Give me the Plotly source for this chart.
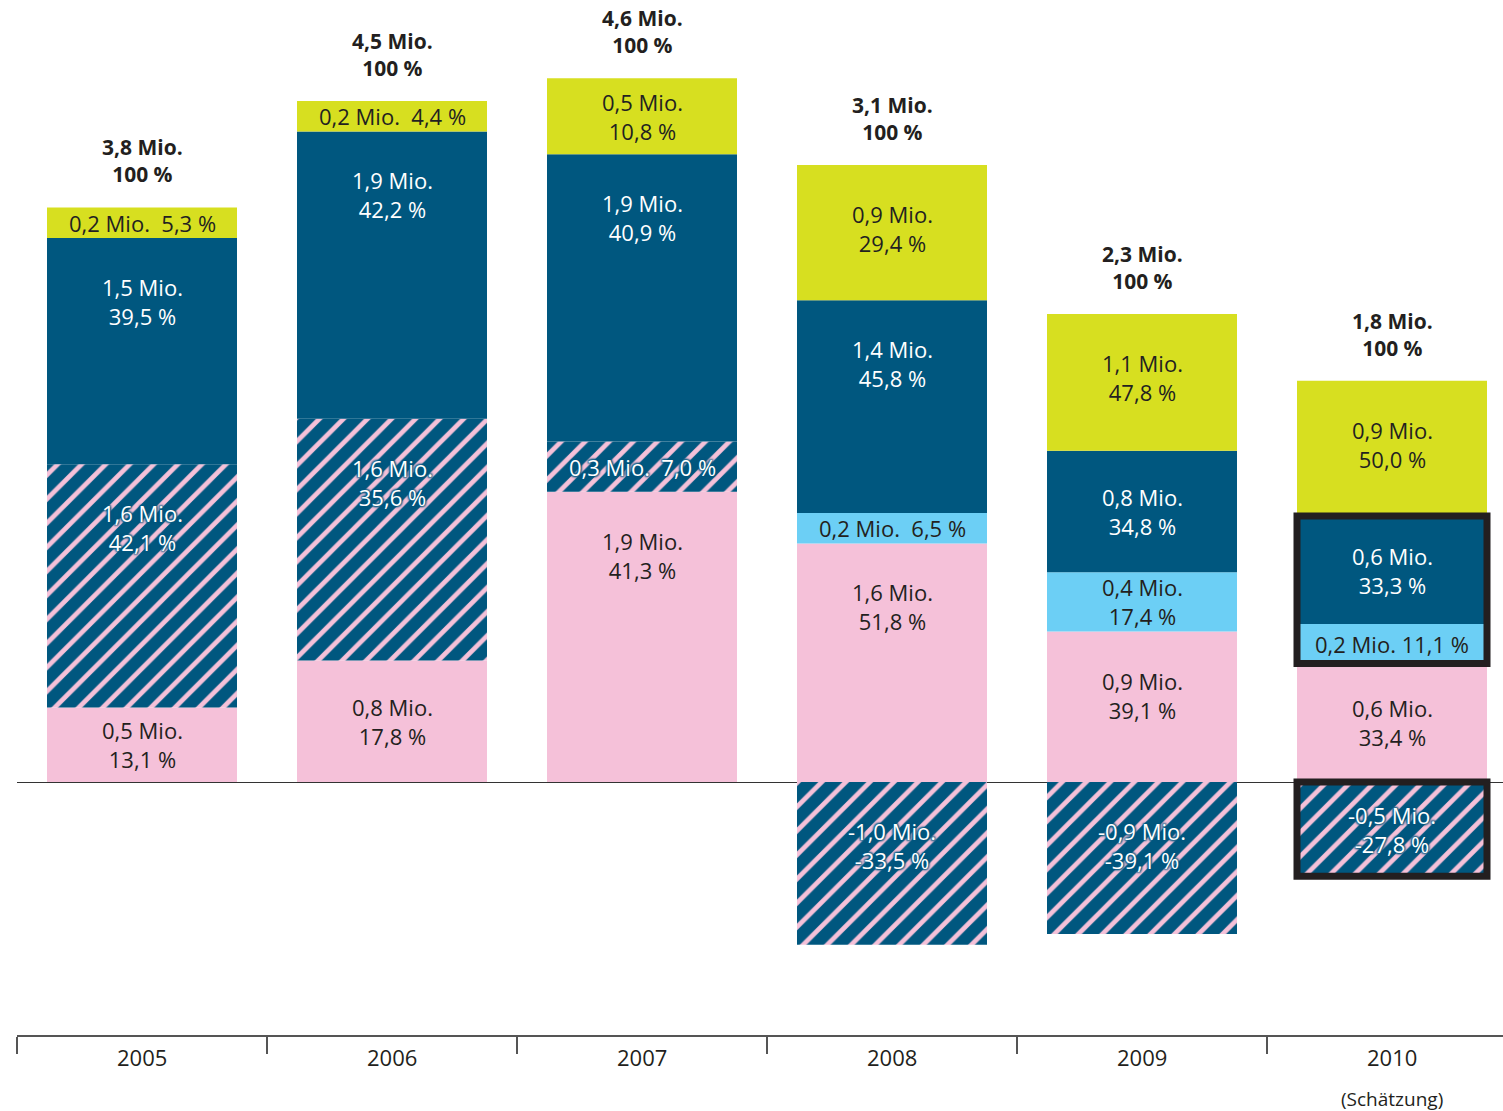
import plotly.graph_objects as go

years = ["2005", "2006", "2007", "2008", "2009", "2010"]

# segment heights in Mio. as drawn in the picture
pink = [0.49, 0.80, 1.91, 1.57, 0.99, 0.78]
hatch = [1.60, 1.59, 0.33, -1.07, -1.00, -0.62]
light = [None, None, None, 0.20, 0.39, 0.26]
dark = [1.49, 1.89, 1.89, 1.40, 0.80, 0.71]
yellow = [0.20, 0.20, 0.50, 0.89, 0.90, 0.89]

pink_lbl = ["0,5 Mio.<br>13,1 %", "0,8 Mio.<br>17,8 %", "1,9 Mio.<br>41,3 %",
            "1,6 Mio.<br>51,8 %", "0,9 Mio.<br>39,1 %", "0,6 Mio.<br>33,4 %"]
hatch_lbl = ["1,6 Mio.<br>42,1 %", "1,6 Mio.<br>35,6 %", "0,3 Mio.\u00a0 7,0 %",
             "-1,0 Mio.<br>-33,5 %", "-0,9 Mio.<br>-39,1 %", "-0,5 Mio.<br>-27,8 %"]
light_lbl = [None, None, None, "0,2 Mio.\u00a0 6,5 %", "0,4 Mio.<br>17,4 %", "0,2 Mio. 11,1 %"]
dark_lbl = ["1,5 Mio.<br>39,5 %", "1,9 Mio.<br>42,2 %", "1,9 Mio.<br>40,9 %",
            "1,4 Mio.<br>45,8 %", "0,8 Mio.<br>34,8 %", "0,6 Mio.<br>33,3 %"]
yellow_lbl = ["0,2 Mio.\u00a0 5,3 %", "0,2 Mio.\u00a0 4,4 %", "0,5 Mio.<br>10,8 %",
              "0,9 Mio.<br>29,4 %", "1,1 Mio.<br>47,8 %", "0,9 Mio.<br>50,0 %"]
total_lbl = ["3,8 Mio.<br>100 %", "4,5 Mio.<br>100 %", "4,6 Mio.<br>100 %",
             "3,1 Mio.<br>100 %", "2,3 Mio.<br>100 %", "1,8 Mio.<br>100 %"]
note_lbl = "(Schätzung)"
framed_year = "2010"

C_PINK = "#F5C1D9"
C_DARK = "#00577F"
C_LIGHT = "#6CCFF5"
C_YELLOW = "#D7DF20"
C_TEXT = "#231F20"
FONT = "Open Sans"
FS = 22
BW = 0.76

fig = go.Figure()
fig.add_bar(x=years, y=pink, marker=dict(color=C_PINK, line=dict(width=0)), width=BW)
fig.add_bar(x=years, y=hatch, width=BW,
            marker=dict(color=C_DARK, line=dict(width=0),
                        pattern=dict(shape="/", fgcolor=C_PINK, bgcolor=C_DARK,
                                     size=17, solidity=0.28, fillmode="replace")))
fig.add_bar(x=years, y=light, marker=dict(color=C_LIGHT, line=dict(width=0)), width=BW)
fig.add_bar(x=years, y=dark, marker=dict(color=C_DARK, line=dict(width=0)), width=BW)
fig.add_bar(x=years, y=yellow, marker=dict(color=C_YELLOW, line=dict(width=0)), width=BW)

annotations = []
THRESH = 0.85
xi = {yr: i for i, yr in enumerate(years)}


def seg_label(x, lo, hi, text, color, shadow=None):
    if text is None:
        return
    h = abs(hi - lo)
    font = dict(family=FONT, size=FS, color=color)
    if shadow:
        font["shadow"] = shadow
    if h > THRESH:
        top = max(lo, hi) if hi >= 0 else 0
        annotations.append(dict(x=xi[x], y=top, text=text, showarrow=False, xref="x", yref="y",
                                yanchor="top", yshift=-32, font=font))
    else:
        annotations.append(dict(x=xi[x], y=(lo + hi) / 2, text=text, showarrow=False,
                                xref="x", yref="y", yanchor="middle", font=font))


SH = "1px 1px 2px %s, -1px -1px 2px %s, 1px -1px 2px %s, -1px 1px 2px %s" % ((C_DARK,) * 4)

shapes = []
for i, yr in enumerate(years):
    cum = 0.0
    p = pink[i]
    seg_label(yr, cum, cum + p, pink_lbl[i], C_TEXT)
    pink_top = cum + p
    cum += p
    hv = hatch[i]
    if hv > 0:
        seg_label(yr, cum, cum + hv, hatch_lbl[i], "white", SH)
        cum += hv
    else:
        seg_label(yr, hv, 0, hatch_lbl[i], "white", SH)
    lv = light[i] or 0
    seg_label(yr, cum, cum + lv, light_lbl[i], C_TEXT)
    cum += lv
    dv = dark[i]
    seg_label(yr, cum, cum + dv, dark_lbl[i], "white")
    cum += dv
    dark_top = cum
    yv = yellow[i]
    seg_label(yr, cum, cum + yv, yellow_lbl[i], C_TEXT)
    cum += yv
    annotations.append(dict(x=i, y=cum, text="<b>" + total_lbl[i] + "</b>", showarrow=False,
                            xref="x", yref="y", yanchor="bottom", yshift=17,
                            font=dict(family=FONT, size=21, color=C_TEXT)))
    annotations.append(dict(x=i, y=0, xref="x", yref="paper", text=yr, showarrow=False,
                            yanchor="top", yshift=-5,
                            font=dict(family=FONT, size=FS, color=C_TEXT)))
    if yr == framed_year:
        annotations.append(dict(x=i, y=0, xref="x", yref="paper", text=note_lbl,
                                showarrow=False, yanchor="top", yshift=-49,
                                font=dict(family=FONT, size=19, color=C_TEXT)))
        shapes.append(dict(type="rect", xref="x", yref="y", x0=i - 0.38, x1=i + 0.38,
                           y0=pink_top, y1=dark_top, line=dict(color=C_TEXT, width=7),
                           layer="above"))
        shapes.append(dict(type="rect", xref="x", yref="y", x0=i - 0.38, x1=i + 0.38,
                           y0=hatch[i], y1=0, line=dict(color=C_TEXT, width=7),
                           layer="above"))

fig.update_layout(
    barmode="relative",
    width=1503, height=1111,
    margin=dict(l=17, r=0, t=0, b=76),
    paper_bgcolor="white", plot_bgcolor="white",
    showlegend=False,
    annotations=annotations,
    shapes=shapes,
    xaxis=dict(type="category", range=[-0.5, 5.444], tickson="boundaries",
               ticks="outside", ticklen=17, tickwidth=1.5, tickcolor="#555555",
               showline=True, linecolor="#555555", linewidth=1.5,
               showticklabels=False, showgrid=False, fixedrange=True),
    yaxis=dict(range=[-1.664, 5.145], showgrid=False, showticklabels=False,
               zeroline=True, zerolinecolor="#333333", zerolinewidth=1.2,
               showline=False, ticks="", fixedrange=True),
)

fig.write_html("out.html", config={"displayModeBar": False},
               post_script="document.body.style.margin='0';")
